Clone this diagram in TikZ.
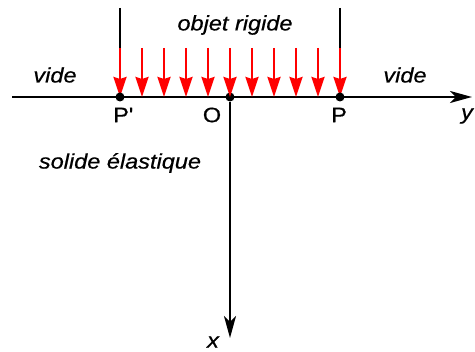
\documentclass[tikz,border=0pt]{standalone}
\usepackage{fontspec}
\setmainfont[FakeStretch=1.12,FakeBold=0.6]{Liberation Sans}
\usetikzlibrary{arrows.meta}

\begin{document}
\begin{tikzpicture}[x=1pt,y=-1pt,every node/.style={font=\fontsize{21}{25}\selectfont},
  axe/.style={line width=2.5pt,-{Stealth[length=22pt,width=12pt,inset=6pt]}},
  force/.style={red,line width=2.5pt,-{Stealth[length=20pt,width=13pt,inset=2pt]}},
  point/.style={circle,fill,inner sep=0pt,minimum size=9pt}]
\useasboundingbox (0,0) rectangle (475,352);
\coordinate (gauche) at (12,97);
\coordinate (droite) at (472,97);
\coordinate (bas) at (230,338);
\draw[axe] (gauche) -- (droite);
\node[point] (O) at (230,97) {};
\draw[axe] (O) -- (bas);
\coordinate (haut1) at (120,8);
\coordinate (haut2) at (340,8);
\foreach \i in {0,...,10} {
  \coordinate (f\i) at (120+22*\i,48);
  \coordinate (s\i) at (120+22*\i,97);
}
\draw[line width=1.8pt] (haut1) -- (f0);
\draw[line width=1.8pt] (haut2) -- (f10);
\foreach \i in {0,...,10} {
  \draw[force] (f\i) -- (s\i);
}
\node[point] (Pp) at (s0) {};
\node[point] (P) at (s10) {};
\node (lPp) at (123,115) {P\textquotesingle};
\node (lO) at (212,115) {O};
\node (lP) at (339,115) {P};
\node (ly) at (467,116) {\itshape y};
\node (lx) at (213,342) {\itshape x};
\node (rigide) at (235,25) {\itshape objet rigide};
\node (vide1) at (55,75) {\itshape vide};
\node (vide2) at (405,75) {\itshape vide};
\node (solide) at (120,163) {\itshape solide élastique};
\end{tikzpicture}
\end{document}
